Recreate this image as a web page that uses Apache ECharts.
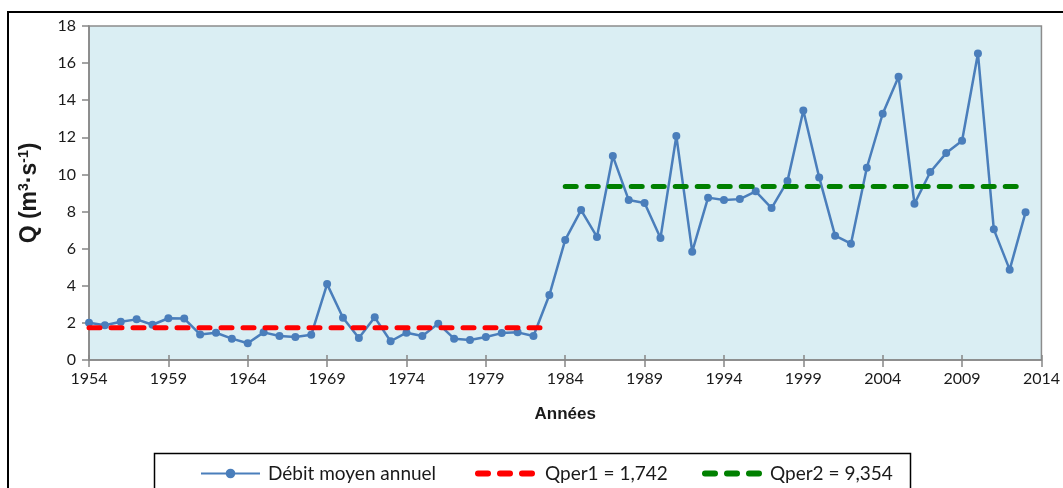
<!DOCTYPE html>
<html>
<head>
<meta charset="utf-8">
<script src="https://cdn.jsdelivr.net/npm/echarts@6/dist/echarts.min.js"></script>
<style>
  html, body { margin: 0; padding: 0; background: #ffffff; }
  #chart { width: 1063px; height: 488px; }
</style>
</head>
<body>
<div id="chart"></div>
<script>
// Annual mean discharge, 1954–2013
const years = [
  1954, 1955, 1956, 1957, 1958, 1959, 1960, 1961, 1962, 1963,
  1964, 1965, 1966, 1967, 1968, 1969, 1970, 1971, 1972, 1973,
  1974, 1975, 1976, 1977, 1978, 1979, 1980, 1981, 1982, 1983,
  1984, 1985, 1986, 1987, 1988, 1989, 1990, 1991, 1992, 1993,
  1994, 1995, 1996, 1997, 1998, 1999, 2000, 2001, 2002, 2003,
  2004, 2005, 2006, 2007, 2008, 2009, 2010, 2011, 2012, 2013
];
const debit = [
  2.01, 1.87, 2.06, 2.19, 1.90, 2.25, 2.23, 1.38, 1.47, 1.15,
  0.90, 1.49, 1.29, 1.24, 1.36, 4.09, 2.28, 1.19, 2.30, 1.01,
  1.47, 1.29, 1.96, 1.15, 1.08, 1.24, 1.45, 1.49, 1.29, 3.50,
  6.47, 8.08, 6.63, 10.99, 8.62, 8.46, 6.57, 12.07, 5.84, 8.75,
  8.62, 8.67, 9.09, 8.19, 9.64, 13.45, 9.84, 6.70, 6.27, 10.36,
  13.27, 15.27, 8.42, 10.13, 11.15, 11.82, 16.52, 7.04, 4.87, 7.96
];

// Mean discharge of each period
const qper1 = 1.742;
const qper1Years = [1954, 1983];
const qper2 = 9.354;
const qper2Years = [1984, 2013];

// Axis tick labels
const xTicks = [1954, 1959, 1964, 1969, 1974, 1979, 1984, 1989, 1994, 1999, 2004, 2009, 2014];
const yTicks = [0, 2, 4, 6, 8, 10, 12, 14, 16, 18];

const seriesNames = ['Débit moyen annuel', 'Qper1 = 1,742', 'Qper2 = 9,354'];

// Three rounded dashes used as the legend icon of the period means
const dashIcon = 'path://M3,0H13A3,3,0,0,1,13,6H3A3,3,0,0,1,3,0Z' +
  'M25,0H35A3,3,0,0,1,35,6H25A3,3,0,0,1,25,0Z' +
  'M47,0H57A3,3,0,0,1,57,6H47A3,3,0,0,1,47,0Z';

const chart = echarts.init(document.getElementById('chart'), null, { renderer: 'canvas' });

const axisGray = '#868686';
const tickFont = { fontFamily: 'Lato', fontSize: 16, color: '#1a1a1a' };
const legendFont = { fontFamily: 'Lato', fontSize: 19, color: '#1a1a1a' };

const option = {
  animation: false,
  backgroundColor: '#ffffff',
  grid: {
    left: 89, right: 21, top: 26, bottom: 128,
    show: true,
    backgroundColor: '#DAEEF3',
    borderColor: '#8c8c8c',
    borderWidth: 1.5
  },
  xAxis: [{
    type: 'value',
    min: xTicks[0],
    max: xTicks[xTicks.length - 1],
    name: 'Années',
    nameLocation: 'middle',
    nameGap: 46,
    nameTextStyle: { fontFamily: 'Liberation Sans', fontSize: 17, fontWeight: 'bold', color: '#1a1a1a' },
    splitLine: { show: false },
    axisLine: { show: true, onZero: false, lineStyle: { color: axisGray, width: 1.5 } },
    axisTick: { show: true, customValues: xTicks, length: 7, lineStyle: { color: axisGray, width: 1.5 } },
    axisLabel: { customValues: xTicks, margin: 11, formatter: v => String(v), ...tickFont }
  }, {
    // inner half of the x ticks
    type: 'value',
    position: 'bottom',
    min: xTicks[0],
    max: xTicks[xTicks.length - 1],
    splitLine: { show: false },
    axisLine: { show: false },
    axisTick: { show: true, inside: true, customValues: xTicks, length: 5, lineStyle: { color: axisGray, width: 1.5 } },
    axisLabel: { show: false }
  }],
  yAxis: {
    type: 'value',
    min: yTicks[0],
    max: yTicks[yTicks.length - 1],
    interval: 2,
    name: 'Q (m{sup|3}·s{sup|-1})',
    nameLocation: 'middle',
    nameGap: 47,
    nameRotate: 90,
    nameTextStyle: {
      fontFamily: 'Liberation Sans', fontSize: 23, fontWeight: 'bold', color: '#1a1a1a',
      rich: {
        sup: { fontFamily: 'Liberation Sans', fontSize: 14, fontWeight: 'bold', color: '#1a1a1a', verticalAlign: 'top', lineHeight: 25 }
      }
    },
    splitLine: { show: false },
    axisLine: { show: true, lineStyle: { color: axisGray, width: 1.5 } },
    axisTick: { show: true, length: 7, lineStyle: { color: axisGray, width: 1.5 } },
    axisLabel: { margin: 13, ...tickFont }
  },
  legend: [{
    left: 195, top: 459,
    itemWidth: 59, itemHeight: 12,
    data: [seriesNames[0]],
    textStyle: { ...legendFont, padding: [0, 0, 0, 3] }
  }, {
    left: 470, top: 459,
    itemWidth: 60, itemHeight: 6,
    data: [{ name: seriesNames[1], icon: dashIcon }],
    textStyle: { ...legendFont, padding: [0, 0, 0, 5] }
  }, {
    left: 697, top: 459,
    itemWidth: 60, itemHeight: 6,
    data: [{ name: seriesNames[2], icon: dashIcon }],
    textStyle: { ...legendFont, padding: [0, 0, 0, 3] }
  }],
  series: [{
    name: seriesNames[0],
    type: 'line',
    data: years.map((y, i) => [y, debit[i]]),
    symbol: 'circle',
    symbolSize: 8,
    lineStyle: { color: '#4A7EBB', width: 2.5 },
    itemStyle: { color: '#4A7EBB' },
    z: 2
  }, {
    name: seriesNames[1],
    type: 'line',
    data: qper1Years.map(y => [y, qper1]),
    symbol: 'none',
    lineStyle: { color: '#FF0000', width: 5, type: [11, 11], cap: 'round' },
    itemStyle: { color: '#FF0000' },
    z: 3
  }, {
    name: seriesNames[2],
    type: 'line',
    data: qper2Years.map(y => [y, qper2]),
    symbol: 'none',
    lineStyle: { color: '#008000', width: 5, type: [11, 11], cap: 'round' },
    itemStyle: { color: '#008000' },
    z: 3
  }],
  graphic: [{
    // outer frame of the chart
    type: 'rect',
    shape: { x: 8, y: 12, width: 1200, height: 600 },
    style: { fill: 'none', stroke: '#000000', lineWidth: 2 },
    silent: true,
    z: 10
  }, {
    // legend box
    type: 'rect',
    shape: { x: 154.5, y: 453.5, width: 756, height: 80 },
    style: { fill: 'none', stroke: '#000000', lineWidth: 1.5 },
    silent: true,
    z: 10
  }]
};

chart.setOption(option);
</script>
</body>
</html>
